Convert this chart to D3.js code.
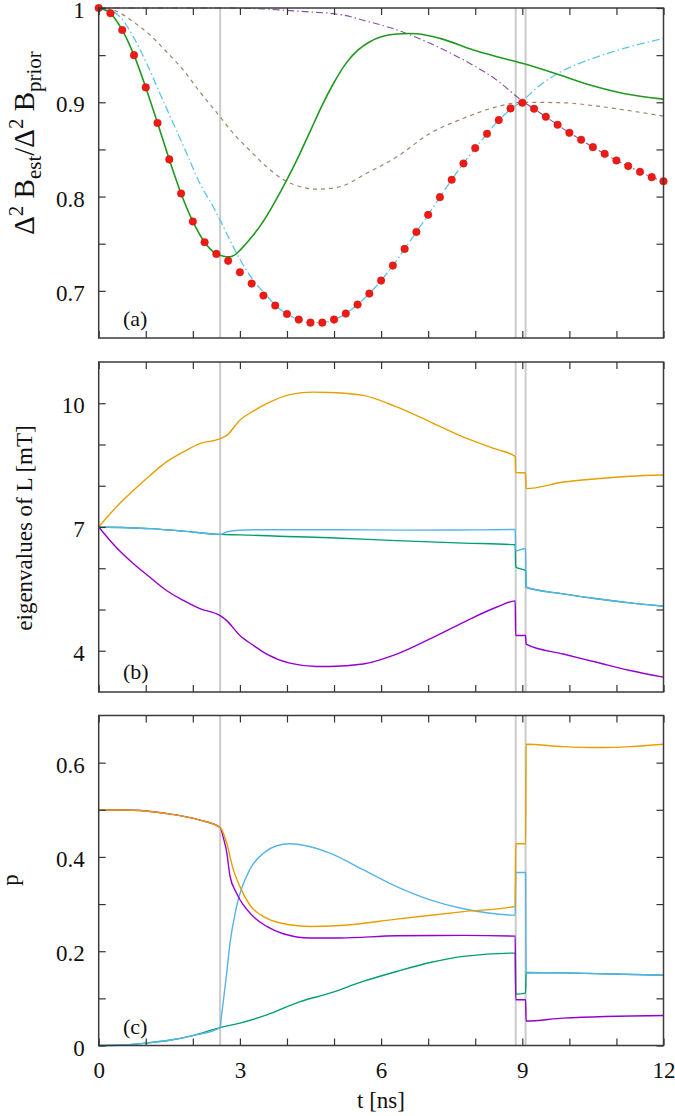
<!DOCTYPE html>
<html><head><meta charset="utf-8">
<script src="https://cdn.jsdelivr.net/npm/d3@7"></script>
<style>
body{margin:0;background:#fff}
svg{display:block}
text{font-family:"Liberation Serif","Times New Roman",serif;fill:#111}
</style>
</head><body>
<svg id="chart" width="675" height="1116"></svg>
<script>
// ---------- tick values & labels ----------
const xTicks = [0,1,2,3,4,5,6,7,8,9,10,11,12];
const xTickLabels = ["0","","","3","","","6","","","9","","","12"];
const aTicks = [0.7,0.75,0.8,0.85,0.9,0.95,1];
const aTickLabels = ["0.7","","0.8","","0.9","","1"];
const bTicks = [4,5,6,7,8,9,10];
const bTickLabels = ["4","","","7","","","10"];
const cTicks = [0,0.1,0.2,0.3,0.4,0.5,0.6];
const cTickLabels = ["0","","0.2","","0.4","","0.6"];
const markerTimes = [2.58, 8.86, 9.07];

// ---------- panel (a) ----------
const dotTimes = [0,0.25,0.5,0.75,1,1.25,1.5,1.75,2,2.25,2.5,2.75,3,3.25,3.5,3.75,4,4.25,4.5,4.75,5,5.25,5.5,5.75,6,6.25,6.5,6.75,7,7.25,7.5,7.75,8,8.25,8.5,8.75,9,9.25,9.5,9.75,10,10.25,10.5,10.75,11,11.25,11.5,11.75,12];
const dotValues = [1.0,0.9944,0.9766,0.950,0.9158,0.878,0.8394,0.8033,0.7736,0.7516,0.7392,0.7318,0.7197,0.7077,0.695,0.6844,0.6755,0.6695,0.6663,0.6663,0.6695,0.6759,0.6854,0.6971,0.7109,0.7268,0.7445,0.7625,0.7806,0.7994,0.8178,0.8351,0.8514,0.8666,0.8811,0.8935,0.8995,0.8931,0.8846,0.8761,0.8676,0.8602,0.8524,0.8453,0.8383,0.8323,0.8262,0.8206,0.8163];

const aGreen = [[0,1],[0.25,0.9944],[0.5,0.9766],[0.75,0.95],[1,0.9158],[1.25,0.878],[1.5,0.8394],[1.75,0.8033],[2,0.7736],[2.25,0.7516],[2.5,0.7392],[2.65,0.7368],[2.79,0.736],[2.9,0.7385],[3.0,0.743],[3.25,0.757],[3.5,0.774],[3.75,0.795],[4.0,0.818],[4.25,0.843],[4.5,0.870],[4.75,0.897],[5.0,0.921],[5.25,0.941],[5.5,0.955],[5.75,0.964],[6.0,0.9695],[6.33,0.9725],[6.6,0.973],[6.76,0.9727],[7.25,0.9678],[7.96,0.9554],[8.46,0.9483],[9.0,0.9413],[9.73,0.930],[10.44,0.9183],[11.15,0.9094],[12,0.9034]];
const aCyan = [[0,1],[0.25,0.9975],[0.45,0.9908],[0.735,0.9695],[1.02,0.9413],[1.3,0.9094],[1.585,0.8776],[1.87,0.8457],[2.15,0.8139],[2.435,0.789],[2.58,0.775],[2.86,0.7466],[3.0,0.7335],[3.28,0.7115],[3.57,0.695],[3.75,0.6848],[4,0.6755],[4.25,0.6695],[4.5,0.6663],[4.75,0.6663],[5,0.6695],[5.25,0.6759],[5.5,0.6854],[5.75,0.6971],[6,0.7109],[6.25,0.7268],[6.5,0.7445],[6.75,0.7625],[7,0.7806],[7.25,0.7994],[7.5,0.8178],[7.75,0.8351],[8,0.8514],[8.25,0.8666],[8.5,0.8811],[8.75,0.8925],[9,0.9015],[9.3,0.915],[9.73,0.930],[10.2,0.941],[10.58,0.948],[11.29,0.959],[12,0.9678]];
const aPurple = [[0,1],[2.58,1],[3,0.9998],[3.5,0.999],[4,0.9975],[4.5,0.9958],[4.91,0.9944],[5.34,0.991],[5.62,0.987],[6,0.982],[6.54,0.973],[7.04,0.9625],[7.75,0.945],[8.455,0.9236],[9.0,0.9015],[9.25,0.8931],[9.5,0.8846],[9.75,0.8761],[10,0.8676],[10.25,0.8602],[10.5,0.8524],[10.75,0.8453],[11,0.8383],[11.25,0.8323],[11.5,0.8262],[11.75,0.8206],[12,0.8163]];
const aBrown = [[0,1],[0.35,0.997],[0.735,0.9855],[1.09,0.9713],[1.44,0.9536],[1.8,0.934],[2.15,0.911],[2.58,0.8846],[2.86,0.867],[3.21,0.849],[3.57,0.8315],[3.92,0.818],[4.25,0.811],[4.6,0.8078],[4.91,0.8086],[5.2,0.8115],[5.62,0.8227],[6.33,0.842],[7.04,0.867],[7.75,0.883],[8.455,0.8952],[9,0.9],[9.87,0.8995],[10.58,0.896],[11.29,0.891],[12,0.8853]];

// ---------- panel (b) eigenvalues ----------
const bOrange = [[0,7],[0.37,7.48],[0.74,7.89],[1.09,8.25],[1.44,8.58],[1.8,8.82],[2.15,9.02],[2.58,9.14],[2.72,9.22],[3.0,9.59],[3.3,9.82],[3.57,9.99],[4.06,10.21],[4.56,10.27],[4.91,10.26],[5.62,10.19],[6.33,9.91],[7.04,9.55],[7.75,9.18],[8.46,8.88],[8.85,8.71],[8.86,8.32],[9.07,8.31],[9.08,7.93],[9.87,8.09],[10.58,8.17],[11.29,8.23],[12,8.26]];
const bSky = [[0,7.0],[1.09,6.96],[1.8,6.9],[2.58,6.82],[2.72,6.88],[3.0,6.92],[3.57,6.935],[5.13,6.935],[6.5,6.925],[8.0,6.93],[8.85,6.94],[8.86,6.42],[9.07,6.48],[9.08,5.54],[9.87,5.38],[10.58,5.26],[11.29,5.16],[12,5.08]];
const bGreen = [[0,7.0],[1.09,6.96],[1.8,6.9],[2.58,6.82],[3.0,6.81],[4.0,6.77],[4.91,6.74],[6.33,6.67],[7.75,6.61],[8.85,6.57],[8.86,6.03],[9.07,5.94],[9.08,5.54],[9.87,5.38],[10.58,5.26],[11.29,5.16],[12,5.08]];
const bPurple = [[0,7],[0.37,6.51],[0.74,6.11],[1.09,5.78],[1.44,5.46],[1.8,5.22],[2.15,5.02],[2.58,4.85],[2.72,4.73],[3.0,4.37],[3.3,4.12],[3.57,3.92],[4.06,3.70],[4.63,3.62],[4.91,3.62],[5.62,3.68],[6.33,3.92],[7.04,4.29],[7.75,4.69],[8.46,5.06],[8.85,5.21],[8.86,4.37],[9.07,4.37],[9.08,4.16],[9.87,3.92],[10.58,3.72],[11.29,3.52],[12,3.36]];

// ---------- panel (c) p ----------
const cOrange = [[0,0.5],[0.74,0.499],[1.44,0.492],[2.15,0.478],[2.58,0.4625],[2.65,0.45],[2.72,0.429],[2.86,0.373],[3.0,0.337],[3.21,0.298],[3.57,0.27],[4.06,0.256],[4.49,0.2525],[5.13,0.2545],[6.33,0.268],[7.75,0.284],[8.85,0.295],[8.86,0.428],[9.07,0.428],[9.08,0.639],[9.87,0.634],[10.58,0.632],[11.29,0.634],[12,0.639]];
const cPurple = [[0,0.5],[0.74,0.499],[1.44,0.492],[2.15,0.478],[2.58,0.4625],[2.65,0.44],[2.72,0.41],[2.79,0.359],[2.93,0.323],[3.28,0.274],[3.57,0.2525],[3.92,0.237],[4.49,0.228],[5.13,0.228],[6.33,0.2327],[7.75,0.2335],[8.85,0.232],[8.86,0.097],[9.07,0.097],[9.08,0.052],[9.87,0.058],[12,0.0636]];
const cSky = [[0,0],[0.5,0.001],[1,0.005],[1.5,0.011],[2,0.021],[2.58,0.038],[2.6,0.0545],[2.72,0.154],[2.79,0.217],[2.93,0.295],[3.21,0.373],[3.5,0.408],[3.78,0.4237],[4.06,0.428],[4.41,0.4237],[4.91,0.408],[5.62,0.373],[6.33,0.337],[7.04,0.309],[7.75,0.29],[8.85,0.2766],[8.86,0.367],[9.07,0.367],[9.08,0.155],[9.87,0.154],[12,0.149]];
const cGreen = [[0,0],[0.5,0.001],[1,0.005],[1.5,0.011],[2,0.021],[2.58,0.038],[3.0,0.0475],[3.57,0.065],[4.28,0.093],[4.91,0.111],[5.62,0.136],[6.33,0.157],[7.04,0.176],[7.75,0.189],[8.85,0.196],[8.86,0.109],[9.07,0.111],[9.08,0.155],[9.87,0.154],[12,0.149]];

// ---------- drawing ----------
const svg = d3.select("#chart");
const x = d3.scaleLinear().domain([0,12]).range([98.7,663.5]);

const panels = [
  {top:8, bottom:338, domain:[0.65,1], ticks:aTicks, labels:aTickLabels, tag:"(a)", tagY:326},
  {top:362, bottom:692, domain:[3,11], ticks:bTicks, labels:bTickLabels, tag:"(b)", tagY:679},
  {top:715.5, bottom:1045.5, domain:[0,0.7], ticks:cTicks, labels:cTickLabels, tag:"(c)", tagY:1034}
];

const C = {orange:"#e69f00", sky:"#56b4e9", green:"#009e73", purple:"#9400d3"};

panels.forEach((p,pi) => {
  const y = d3.scaleLinear().domain(p.domain).range([p.bottom,p.top]);
  p.y = y;
  const g = svg.append("g");
  g.selectAll("line.mark").data(markerTimes).join("line")
    .attr("x1",d=>x(d)).attr("x2",d=>x(d)).attr("y1",p.top).attr("y2",p.bottom)
    .attr("stroke","#cbcbcb").attr("stroke-width",2);
  p.g = g;
});

function drawLine(pi, data, color, width, dash) {
  const p = panels[pi];
  const line = d3.line().x(d=>x(d[0])).y(d=>p.y(d[1])).curve(d3.curveMonotoneX);
  p.g.append("path").datum(data).attr("d", line)
    .attr("fill","none").attr("stroke",color).attr("stroke-width",width)
    .attr("stroke-dasharray", dash || null).attr("stroke-linejoin","round");
}

// panel a
drawLine(0, aBrown, "#a08468", 1.2, "4,4");
drawLine(0, aPurple, "#8a4f9c", 1.1, "7,3,1.5,3");
drawLine(0, aCyan, "#5cc6e6", 1.3, "8,3,1.5,3");
drawLine(0, aGreen, "#1f9a1f", 1.6);
panels[0].g.selectAll("circle.dot").data(dotTimes).join("circle")
  .attr("cx",(d)=>x(d)).attr("cy",(d,i)=>panels[0].y(dotValues[i])).attr("r",3.8)
  .attr("fill","#ee1a14").attr("stroke","#c01010").attr("stroke-width",0.4);

// panel b
drawLine(1, bPurple, C.purple, 1.4);
drawLine(1, bGreen, C.green, 1.4);
drawLine(1, bSky, C.sky, 1.4);
drawLine(1, bOrange, C.orange, 1.4);

// panel c
drawLine(2, cGreen, C.green, 1.4);
drawLine(2, cSky, C.sky, 1.4);
drawLine(2, cPurple, C.purple, 1.4);
drawLine(2, cOrange, C.orange, 1.4);

// axes + frames
panels.forEach((p,pi) => {
  const g = svg.append("g");
  const last = pi === panels.length-1;
  const ax = [
    g.append("g").attr("transform",`translate(0,${p.bottom})`)
      .call(d3.axisBottom(x).tickValues(xTicks).tickSize(-7).tickPadding(16)
        .tickFormat((d,i)=> last ? xTickLabels[i] : "")),
    g.append("g").attr("transform",`translate(0,${p.top})`)
      .call(d3.axisTop(x).tickValues(xTicks).tickSize(-7).tickFormat("")),
    g.append("g").attr("class","yleft").attr("transform",`translate(${x.range()[0]},0)`)
      .call(d3.axisLeft(p.y).tickValues(p.ticks).tickSize(-7).tickPadding(14)
        .tickFormat((d,i)=>p.labels[i])),
    g.append("g").attr("transform",`translate(${x.range()[1]},0)`)
      .call(d3.axisRight(p.y).tickValues(p.ticks).tickSize(-7).tickFormat(""))
  ];
  ax.forEach(a => {
    a.select(".domain").remove();
    a.selectAll(".tick line").attr("stroke","#333").attr("stroke-width",1.2);
    a.selectAll(".tick text").attr("font-size",23).attr("font-family","Liberation Serif, serif").attr("fill","#111");
  });
  g.selectAll(".yleft .tick text").attr("dy","0.42em");
  g.append("rect").attr("x",x.range()[0]).attr("y",p.top)
    .attr("width",x.range()[1]-x.range()[0]).attr("height",p.bottom-p.top)
    .attr("fill","none").attr("stroke","#3a3a3a").attr("stroke-width",1.5);
  g.append("text").attr("x",123).attr("y",p.tagY).attr("font-size",22).text(p.tag);
});

// axis titles
const ta = svg.append("text").attr("transform","translate(34,143) rotate(-90)")
  .attr("text-anchor","middle").attr("font-size",29);
ta.append("tspan").text("Δ");
ta.append("tspan").attr("font-size",21).attr("dy",-11).text("2");
ta.append("tspan").attr("dy",11).text(" B");
ta.append("tspan").attr("font-size",21).attr("dy",7).text("est");
ta.append("tspan").attr("dy",-7).text("/Δ");
ta.append("tspan").attr("font-size",21).attr("dy",-11).text("2");
ta.append("tspan").attr("dy",11).text(" B");
ta.append("tspan").attr("font-size",21).attr("dy",7).text("prior");

svg.append("text").attr("transform","translate(32,528) rotate(-90)")
  .attr("text-anchor","middle").attr("font-size",23).text("eigenvalues of L [mT]");
svg.append("text").attr("transform","translate(18,880) rotate(-90)")
  .attr("text-anchor","middle").attr("font-size",23).text("p");
svg.append("text").attr("x",381).attr("y",1108)
  .attr("text-anchor","middle").attr("font-size",23).text("t [ns]");
</script>
</body></html>
